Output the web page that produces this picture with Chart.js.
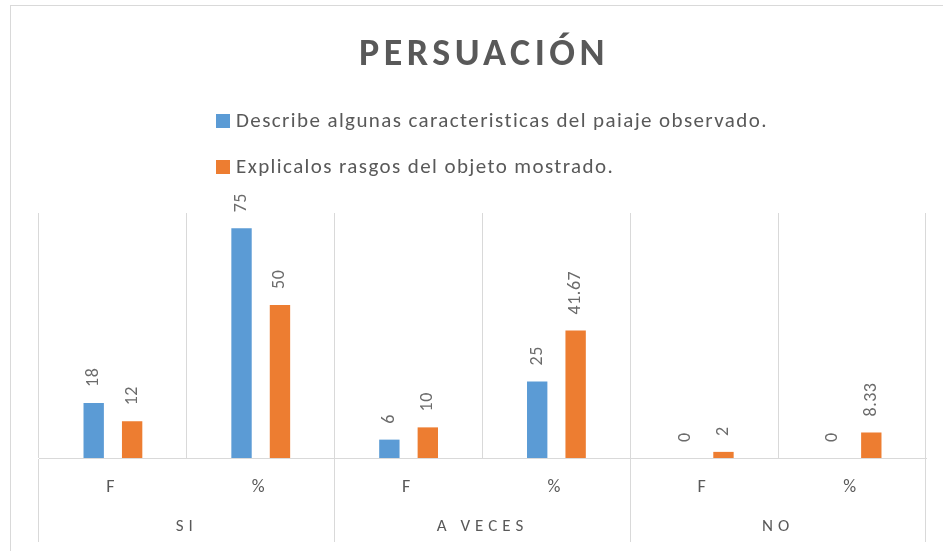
<!DOCTYPE html>
<html>
<head>
<meta charset="utf-8">
<script src="https://cdn.jsdelivr.net/npm/chart.js@4.4.1/dist/chart.umd.min.js"></script>
<style>
  body { margin: 0; background: #fff; }
  canvas { display: block; }
</style>
</head>
<body>
<canvas id="persuasionChart" width="943" height="551"></canvas>
<script>
// Chart data
const groups = ['SI', 'A VECES', 'NO'];
const measures = ['F', '%', 'F', '%', 'F', '%'];
const describeValues = [18, 75, 6, 25, 0, 0];
const explicaValues = [12, 50, 10, 41.67, 2, 8.33];
const seriesNames = [
    'Describe algunas caracteristicas del paiaje observado.',
    'Explicalos rasgos del objeto mostrado.'
];
const chartTitle = 'PERSUACIÓN';

const FONT = 'Carlito, Calibri, Lato, sans-serif';
const GRAY = '#595959';
const GRID = '#d9d9d9';

// Frame, title and legend (left aligned, one item per line)
const decorPlugin = {
    id: 'decor',
    beforeDraw(chart) {
        const c = chart.ctx;
        c.save();
        c.fillStyle = '#fff';
        c.fillRect(0, 0, chart.width, chart.height);
        c.strokeStyle = GRID;
        c.lineWidth = 1;
        c.strokeRect(10.5, 5.5, 950, 560);
        c.restore();
        // spaced letters for the group labels
        c.letterSpacing = '5px';
    },
    afterDraw(chart) {
        const c = chart.ctx;
        c.save();
        c.letterSpacing = '4.5px';
        c.fillStyle = GRAY;
        c.font = 'bold 38px ' + FONT;
        c.textAlign = 'center';
        c.textBaseline = 'middle';
        c.fillText(chartTitle, 484, 55);

        c.letterSpacing = '1.4px';
        c.font = '21px ' + FONT;
        c.textAlign = 'left';
        chart.data.datasets.forEach((ds, i) => {
            const y = 121 + i * 46;
            c.fillStyle = ds.backgroundColor;
            c.fillRect(216, y - 7, 14, 14);
            c.fillStyle = GRAY;
            c.fillText(ds.label, 236, y + 1);
        });
        c.restore();
    }
};

// Rotated value labels above each bar
const valueLabels = {
    id: 'valueLabels',
    afterDatasetsDraw(chart) {
        const c = chart.ctx;
        c.save();
        c.letterSpacing = '0.5px';
        c.font = '18px ' + FONT;
        c.fillStyle = '#6b6b6b';
        c.textAlign = 'left';
        c.textBaseline = 'middle';
        chart.data.datasets.forEach((ds, i) => {
            chart.getDatasetMeta(i).data.forEach((bar, j) => {
                c.save();
                c.translate(bar.x, bar.y - 16);
                c.rotate(-Math.PI / 2);
                c.fillText(String(ds.data[j]), 0, 0);
                c.restore();
            });
        });
        c.restore();
        c.letterSpacing = '5px';
    }
};

const ctx = document.getElementById('persuasionChart').getContext('2d');

const persuasionChart = new Chart(ctx, {
    type: 'bar',
    data: {
        labels: measures,
        datasets: [
            {
                label: seriesNames[0],
                data: describeValues,
                backgroundColor: '#5B9BD5',
                categoryPercentage: 0.52,
                barPercentage: 0.53
            },
            {
                label: seriesNames[1],
                data: explicaValues,
                backgroundColor: '#ED7D31',
                categoryPercentage: 0.52,
                barPercentage: 0.53
            }
        ]
    },
    options: {
        responsive: false,
        animation: false,
        layout: {
            padding: { top: 213, left: 39, right: 17, bottom: 9 }
        },
        scales: {
            y: {
                display: false,
                min: 0,
                max: 80
            },
            x: {
                position: 'bottom',
                weight: 0,
                afterFit(scale) { scale.height = 42; },
                border: { display: true, color: GRID, width: 1 },
                grid: {
                    color: GRID,
                    lineWidth: 1,
                    drawTicks: true,
                    tickLength: 84,
                    // only group boundaries reach down through the labels
                    tickColor: (c) => (c.index === undefined || c.index % 2 === 0) ? GRID : 'rgba(0,0,0,0)'
                },
                ticks: {
                    color: GRAY,
                    font: { family: FONT, size: 18 },
                    padding: -65,
                    maxRotation: 0
                }
            },
            x2: {
                type: 'category',
                labels: groups,
                position: 'bottom',
                weight: 1,
                offset: true,
                afterFit(scale) { scale.height = 42; },
                border: { display: false },
                grid: { display: false, drawTicks: false },
                ticks: {
                    color: GRAY,
                    font: { family: FONT, size: 17 },
                    padding: 17,
                    maxRotation: 0
                }
            }
        },
        plugins: {
            legend: { display: false },
            title: { display: false },
            tooltip: { enabled: false }
        }
    },
    plugins: [decorPlugin, valueLabels]
});
</script>
</body>
</html>
